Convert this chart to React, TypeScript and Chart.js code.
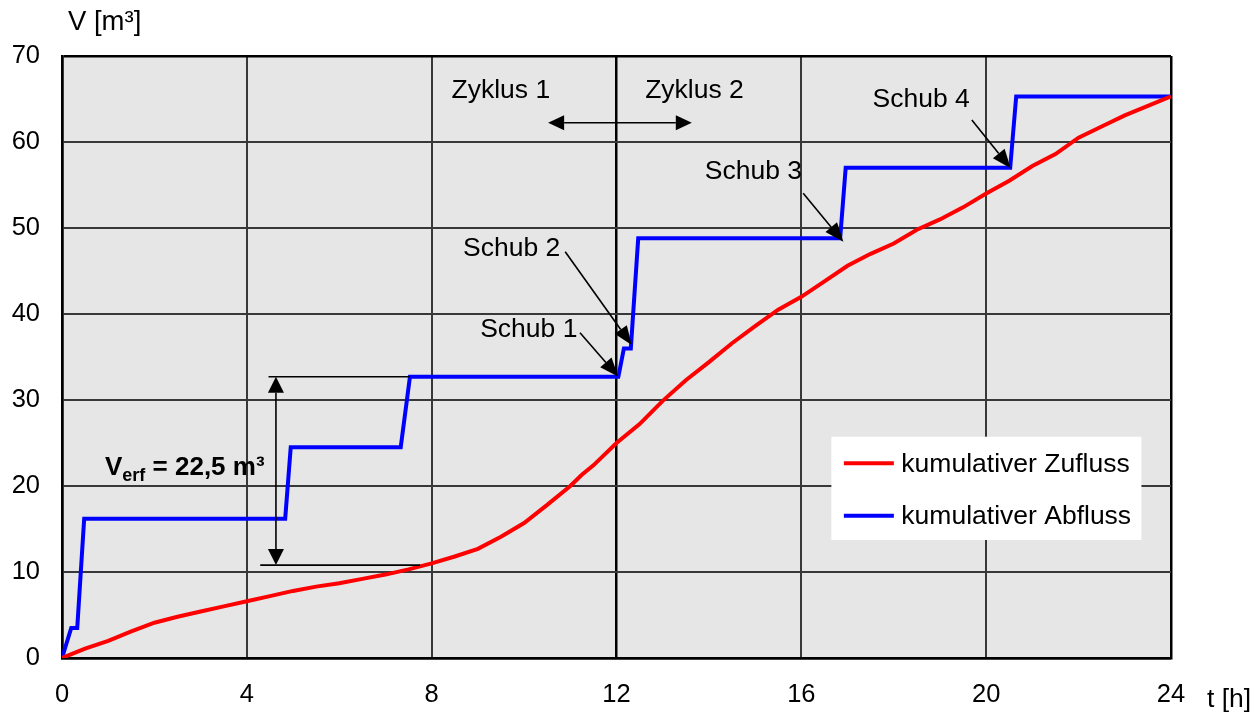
import React, { useEffect, useRef } from 'react';
import { Chart, registerables } from 'chart.js';

Chart.register(...registerables);

// ---------- data ----------
const timeZufluss = [0, 0.5, 1, 1.5, 2, 2.5, 3, 3.5, 4, 4.5, 5, 5.5, 6, 6.5, 7, 7.5, 8, 8.5, 9, 9.5, 10, 10.5, 11, 11.25, 11.5, 12, 12.5, 13, 13.5, 14, 14.5, 15, 15.5, 16, 16.5, 17, 17.5, 18, 18.5, 19, 19.5, 20, 20.5, 21, 21.5, 22, 22.5, 23, 23.5, 24];
const volZufluss = [0, 1.1, 2.0, 3.1, 4.1, 4.8, 5.4, 6.0, 6.6, 7.2, 7.8, 8.3, 8.7, 9.2, 9.7, 10.3, 11.0, 11.8, 12.7, 14.1, 15.7, 17.8, 20.0, 21.3, 22.4, 25.0, 27.2, 29.9, 32.3, 34.4, 36.6, 38.6, 40.5, 42.0, 43.8, 45.6, 47.0, 48.2, 49.8, 51.0, 52.4, 54.0, 55.5, 57.2, 58.6, 60.5, 61.8, 63.1, 64.2, 65.3];

const timeAbfluss = [0, 0.2, 0.33, 0.48, 4.83, 4.95, 7.33, 7.53, 12.04, 12.16, 12.31, 12.47, 16.84, 16.96, 20.52, 20.65, 24];
const volAbfluss = [0, 3.5, 3.5, 16.2, 16.2, 24.5, 24.5, 32.7, 32.7, 36.0, 36.0, 48.8, 48.8, 57.0, 57.0, 65.3, 65.3];

const seriesLabels = ['kumulativer Zufluss', 'kumulativer Abfluss'];
const seriesColors = ['#ff0000', '#0000ff'];

const xMin = 0, xMax = 24, xStep = 4;
const yMin = 0, yMax = 70, yStep = 10;
const xAxisTitle = 't [h]';
const yAxisTitle = 'V [m³]';
const cycleDivider = 12;

// annotation texts (data coordinates: t, V baseline)
const cycleLabels = [
  { text: 'Zyklus 1', t: 8.43, v: 65.1 },
  { text: 'Zyklus 2', t: 12.62, v: 65.1 },
];
const cycleArrow = { t1: 10.52, t2: 13.63, v: 62.24 };

const schubLabels = [
  { text: 'Schub 1', t: 9.05, v: 37.36, from: [11.21, 37.83], to: [12.04, 32.7] },
  { text: 'Schub 2', t: 8.68, v: 46.74, from: [10.89, 47.24], to: [12.33, 36.4] },
  { text: 'Schub 3', t: 13.91, v: 55.7, from: [16.04, 54.03], to: [16.91, 48.4] },
  { text: 'Schub 4', t: 17.54, v: 64.1, from: [19.69, 62.56], to: [20.53, 56.94] },
];

const vErf = {
  top: 32.7, bottom: 10.8,
  topFrom: 4.47, topTo: 7.53,
  bottomFrom: 4.29, bottomTo: 7.75,
  arrowT: 4.63,
  textT: 0.93, textV: 21.28,
  main: 'V', sub: 'erf', rest: ' = 22,5 m³',
};

const legendBox = { t1: 16.65, t2: 23.36, v1: 25.73, v2: 13.72 };

const FONT = '"Liberation Sans", Arial, sans-serif';
const ANNOT_SIZE = 26.5;

function arrowHead(ctx: CanvasRenderingContext2D, x1: number, y1: number, x2: number, y2: number, len: number, w: number) {
  const a = Math.atan2(y2 - y1, x2 - x1);
  const bx = x2 - len * Math.cos(a);
  const by = y2 - len * Math.sin(a);
  ctx.beginPath();
  ctx.moveTo(x2, y2);
  ctx.lineTo(bx + (w / 2) * Math.sin(a), by - (w / 2) * Math.cos(a));
  ctx.lineTo(bx - (w / 2) * Math.sin(a), by + (w / 2) * Math.cos(a));
  ctx.closePath();
  ctx.fill();
  return [bx, by];
}

function arrow(ctx: CanvasRenderingContext2D, x1: number, y1: number, x2: number, y2: number, len = 16, w = 12) {
  const [bx, by] = arrowHead(ctx, x1, y1, x2, y2, len, w);
  ctx.beginPath();
  ctx.moveTo(x1, y1);
  ctx.lineTo(bx, by);
  ctx.stroke();
}

const bgPlugin = {
  id: 'plotBg',
  beforeDraw(chart: any) {
    const { ctx, chartArea: a } = chart;
    ctx.save();
    ctx.fillStyle = '#e6e6e6';
    ctx.fillRect(a.left, a.top, a.right - a.left, a.bottom - a.top);
    ctx.restore();
  },
};

const annotPlugin = {
  id: 'annot',
  afterDatasetsDraw(chart: any) {
    const { ctx } = chart;
    const xs = chart.scales.x;
    const ys = chart.scales.y;
    const px = (t: number) => xs.getPixelForValue(t);
    const py = (v: number) => ys.getPixelForValue(v);
    ctx.save();
    ctx.fillStyle = '#000';
    ctx.strokeStyle = '#000';
    ctx.lineWidth = 1.6;
    ctx.font = `${ANNOT_SIZE}px ${FONT}`;
    ctx.textBaseline = 'alphabetic';
    ctx.textAlign = 'left';

    // cycle labels and arrow
    cycleLabels.forEach((c) => ctx.fillText(c.text, px(c.t), py(c.v)));
    {
      const y = py(cycleArrow.v);
      const x1 = px(cycleArrow.t1), x2 = px(cycleArrow.t2);
      const [b1] = arrowHead(ctx, x2, y, x1, y, 16, 15);
      const [b2] = arrowHead(ctx, x1, y, x2, y, 16, 15);
      ctx.beginPath();
      ctx.moveTo(b1, y);
      ctx.lineTo(b2, y);
      ctx.stroke();
    }

    // Schub labels
    schubLabels.forEach((s) => {
      ctx.fillText(s.text, px(s.t), py(s.v));
      arrow(ctx, px(s.from[0]), py(s.from[1]), px(s.to[0]), py(s.to[1]), 19, 15);
    });

    // V_erf
    ctx.beginPath();
    ctx.moveTo(px(vErf.topFrom), py(vErf.top));
    ctx.lineTo(px(vErf.topTo), py(vErf.top));
    ctx.moveTo(px(vErf.bottomFrom), py(vErf.bottom));
    ctx.lineTo(px(vErf.bottomTo), py(vErf.bottom));
    ctx.stroke();
    {
      const x = px(vErf.arrowT);
      const yT = py(vErf.top), yB = py(vErf.bottom);
      const [, b1] = arrowHead(ctx, x, yB, x, yT, 16, 16);
      const [, b2] = arrowHead(ctx, x, yT, x, yB, 16, 16);
      ctx.beginPath();
      ctx.moveTo(x, b1);
      ctx.lineTo(x, b2);
      ctx.stroke();
    }
    {
      let x = px(vErf.textT);
      const y = py(vErf.textV);
      ctx.font = `bold 26px ${FONT}`;
      ctx.fillText(vErf.main, x, y);
      x += ctx.measureText(vErf.main).width;
      ctx.font = `bold 18px ${FONT}`;
      ctx.fillText(vErf.sub, x, y + 6);
      x += ctx.measureText(vErf.sub).width;
      ctx.font = `bold 26px ${FONT}`;
      ctx.fillText(vErf.rest, x, y);
    }

    // legend
    {
      const l = px(legendBox.t1), r = px(legendBox.t2);
      const t = py(legendBox.v1), b = py(legendBox.v2);
      ctx.fillStyle = '#ffffff';
      ctx.fillRect(l, t, r - l, b - t);
      ctx.font = `${ANNOT_SIZE}px ${FONT}`;
      ctx.textBaseline = 'middle';
      seriesLabels.forEach((lab, i) => {
        const y = t + 26.6 + i * 52.4;
        ctx.strokeStyle = seriesColors[i];
        ctx.lineWidth = 4;
        ctx.beginPath();
        ctx.moveTo(l + 12.5, y);
        ctx.lineTo(l + 62.5, y);
        ctx.stroke();
        ctx.fillStyle = '#000';
        ctx.fillText(lab, l + 70, y + 1);
      });
    }

    // axis titles
    ctx.fillStyle = '#000';
    ctx.font = `${ANNOT_SIZE + 1}px ${FONT}`;
    ctx.textBaseline = 'alphabetic';
    ctx.fillText(yAxisTitle, 68, 30);
    ctx.font = `${ANNOT_SIZE}px ${FONT}`;
    ctx.fillText(xAxisTitle, 1207, 707);
    ctx.restore();
  },
};

export default function App() {
  const ref = useRef<HTMLCanvasElement | null>(null);
  useEffect(() => {
    if (!ref.current) return;
    const gridColor = (ctx: any, max: number, special?: number) => {
      const v = ctx.tick ? ctx.tick.value : null;
      if (v === max || v === 0) return '#000000';
      if (special !== undefined && v === special) return '#000000';
      return '#383838';
    };
    const gridWidth = (ctx: any, max: number, special?: number) => {
      const v = ctx.tick ? ctx.tick.value : null;
      if (v === max || v === 0) return 2.5;
      if (special !== undefined && v === special) return 2.5;
      return 2;
    };
    const chart = new Chart(ref.current, {
      type: 'line',
      data: {
        datasets: [
          {
            label: seriesLabels[0],
            data: timeZufluss.map((t, i) => ({ x: t, y: volZufluss[i] })),
            borderColor: seriesColors[0],
            borderWidth: 4,
            pointRadius: 0,
            tension: 0,
            fill: false,
          },
          {
            label: seriesLabels[1],
            data: timeAbfluss.map((t, i) => ({ x: t, y: volAbfluss[i] })),
            borderColor: seriesColors[1],
            borderWidth: 4,
            pointRadius: 0,
            tension: 0,
            fill: false,
          },
        ],
      },
      options: {
        responsive: false,
        animation: false,
        events: [],
        layout: { padding: { top: 56, right: 87, left: 0, bottom: 0 } },
        plugins: { legend: { display: false }, tooltip: { enabled: false }, title: { display: false } },
        scales: {
          x: {
            type: 'linear',
            min: xMin,
            max: xMax,
            afterFit: (s: any) => { s.height = 56; },
            ticks: { stepSize: xStep, color: '#000', font: { family: FONT, size: 25.5 }, padding: 22, maxRotation: 0 },
            grid: {
              drawTicks: false,
              color: (c: any) => gridColor(c, xMax, cycleDivider),
              lineWidth: (c: any) => gridWidth(c, xMax, cycleDivider),
            },
            border: { display: true, color: '#000', width: 2.5 },
          },
          y: {
            type: 'linear',
            min: yMin,
            max: yMax,
            afterFit: (s: any) => { s.width = 62; },
            ticks: { stepSize: yStep, color: '#000', font: { family: FONT, size: 25.5 }, padding: 22 },
            grid: {
              drawTicks: false,
              color: (c: any) => gridColor(c, yMax),
              lineWidth: (c: any) => gridWidth(c, yMax),
            },
            border: { display: true, color: '#000', width: 2.5 },
          },
        },
      },
      plugins: [bgPlugin, annotPlugin],
    });
    return () => chart.destroy();
  }, []);
  return (
    <div style={{ position: 'absolute', left: 0, top: 0, width: 1258, height: 714, background: '#fff' }}>
      <canvas ref={ref} width={1258} height={714} style={{ display: 'block' }} />
    </div>
  );
}
